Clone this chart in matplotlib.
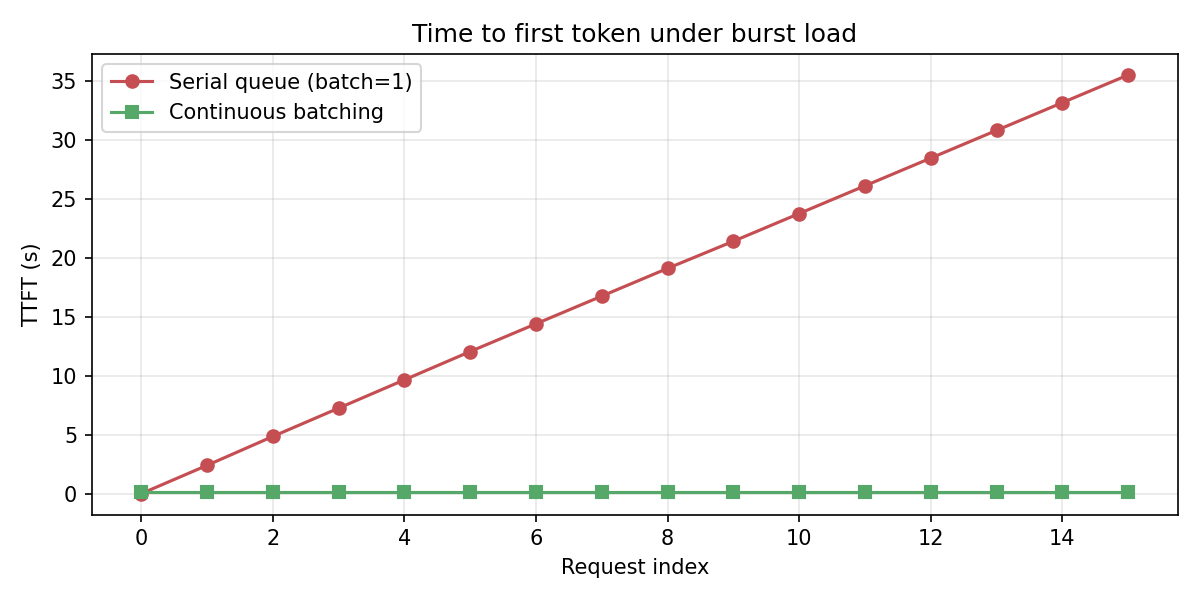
import matplotlib
matplotlib.use("Agg")
import matplotlib.pyplot as plt
import numpy as np

SERIAL_RED = "#c44e52"
BATCH_GREEN = "#55a868"

request_index = list(range(16))
serial_ttft = [0.0, 2.4, 4.85, 7.25, 9.65, 12.05, 14.4, 16.75, 19.1, 21.4,
               23.75, 26.1, 28.45, 30.8, 33.15, 35.5]
batching_ttft = [0.15] * 16

fig, ax = plt.subplots(figsize=(8, 4), dpi=150)

ax.plot(request_index, serial_ttft, color=SERIAL_RED, marker="o", linewidth=1.5,
        markersize=6, label="Serial queue (batch=1)")
ax.plot(request_index, batching_ttft, color=BATCH_GREEN, marker="s", linewidth=1.5,
        markersize=6, label="Continuous batching")

ax.set_xlabel("Request index")
ax.set_ylabel("TTFT (s)")
ax.set_title("Time to first token under burst load")
ax.grid(alpha=0.3)
ax.legend(loc="upper left")

fig.tight_layout()
fig.savefig("out.png", dpi=150)
